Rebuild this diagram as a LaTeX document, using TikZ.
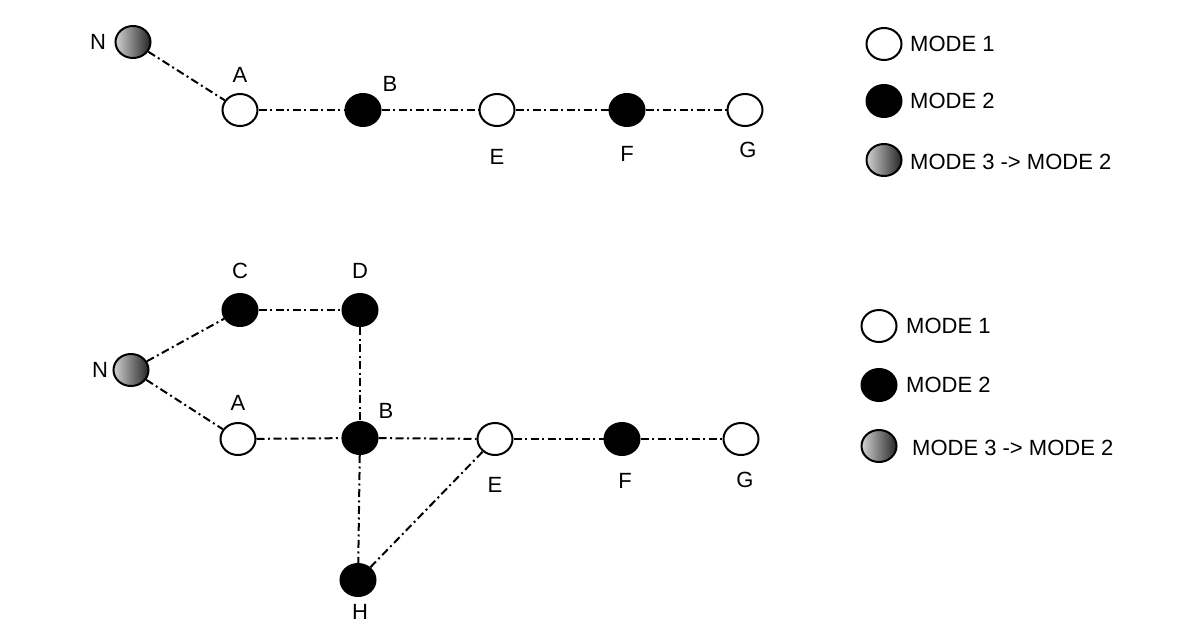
\documentclass[tikz,border=0pt]{standalone}
\usepackage{fontspec}
\setmainfont{Liberation Sans}
\usetikzlibrary{shapes.geometric}
\begin{document}
\begin{tikzpicture}[x=1pt,y=-1pt,
  nd/.style={ellipse,draw=black,line width=2pt,minimum width=35pt,minimum height=32pt,inner sep=0pt},
  white/.style={nd,fill=white},
  blk/.style={nd,fill=black},
  grad/.style={nd,left color=black!18,right color=black!85},
  lbl/.style={font=\fontsize{22}{26}\selectfont,inner sep=0pt},
  leg/.style={font=\fontsize{22}{26}\selectfont,inner sep=0pt,anchor=west},
  con/.style={line width=2pt,dash pattern=on 8pt off 3.5pt on 2pt off 3.5pt}]
\useasboundingbox (0,0) rectangle (1200,642);
% top diagram
\node[grad] (tN) at (133,42) {};
\node[white] (tA) at (240,110) {};
\node[blk] (tB) at (363,110) {};
\node[white] (tE) at (497,110) {};
\node[blk] (tF) at (627,110) {};
\node[white] (tG) at (745,110) {};
\draw[con] (tN) -- (tA);
\draw[con] (tA) -- (tB);
\draw[con] (tB) -- (tE);
\draw[con] (tE) -- (tF);
\draw[con] (tF) -- (tG);
\node[lbl] (ltN) at (98,42) {N};
\node[lbl] (ltA) at (240,75) {A};
\node[lbl] (ltB) at (390,84) {B};
\node[lbl] (ltE) at (497,157) {E};
\node[lbl] (ltF) at (627,154) {F};
\node[lbl] (ltG) at (748,150) {G};
% top legend
\node[white] (tl1) at (884,44) {};
\node[blk] (tl2) at (884,101) {};
\node[grad] (tl3) at (884,160) {};
\node[leg] (tt1) at (910,44) {MODE 1};
\node[leg] (tt2) at (910,101) {MODE 2};
\node[leg] (tt3) at (910,162) {MODE 3 -> MODE 2};
% bottom diagram
\node[blk] (bC) at (240,310) {};
\node[blk] (bD) at (360,310) {};
\node[grad] (bN) at (131,370) {};
\node[white] (bA) at (238,439) {};
\node[blk] (bB) at (360,438) {};
\node[white] (bE) at (495,439) {};
\node[blk] (bF) at (622,439) {};
\node[white] (bG) at (741,439) {};
\node[blk] (bH) at (358,580) {};
\draw[con] (bN) -- (bC);
\draw[con] (bC) -- (bD);
\draw[con] (bD) -- (bB);
\draw[con] (bN) -- (bA);
\draw[con] (bA) -- (bB);
\draw[con] (bB) -- (bE);
\draw[con] (bE) -- (bF);
\draw[con] (bF) -- (bG);
\draw[con] (bB) -- (bH);
\draw[con] (bH) -- (bE);
\node[lbl] (lbC) at (240,271) {C};
\node[lbl] (lbD) at (360,271) {D};
\node[lbl] (lbN) at (100,370) {N};
\node[lbl] (lbA) at (238,403) {A};
\node[lbl] (lbB) at (386,411) {B};
\node[lbl] (lbE) at (495,485) {E};
\node[lbl] (lbF) at (625,481) {F};
\node[lbl] (lbG) at (745,480) {G};
\node[lbl] (lbH) at (360,612) {H};
% bottom legend
\node[white] (bl1) at (879,326) {};
\node[blk] (bl2) at (879,385) {};
\node[grad] (bl3) at (879,446) {};
\node[leg] (bt1) at (906,326) {MODE 1};
\node[leg] (bt2) at (906,385) {MODE 2};
\node[leg] (bt3) at (912,448) {MODE 3 -> MODE 2};
\end{tikzpicture}
\end{document}
